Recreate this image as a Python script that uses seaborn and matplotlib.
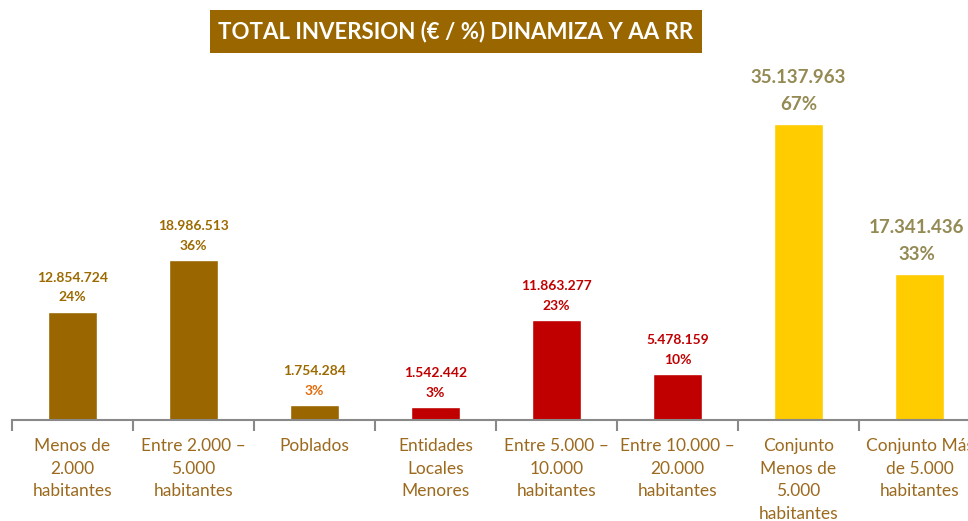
import pandas as pd
import seaborn as sns
import matplotlib.pyplot as plt
from matplotlib.patches import Rectangle

categories = [
    'Menos de\n2.000\nhabitantes',
    'Entre 2.000 –\n5.000\nhabitantes',
    'Poblados',
    'Entidades\nLocales\nMenores',
    'Entre 5.000 –\n10.000\nhabitantes',
    'Entre 10.000 –\n20.000\nhabitantes',
    'Conjunto\nMenos de\n5.000\nhabitantes',
    'Conjunto Más\nde 5.000\nhabitantes',
]
values = [12854724, 18986513, 1754284, 1542442, 11863277, 5478159, 35137963, 17341436]
value_labels = ['12.854.724', '18.986.513', '1.754.284', '1.542.442',
                '11.863.277', '5.478.159', '35.137.963', '17.341.436']
pct_labels = ['24%', '36%', '3%', '3%', '23%', '10%', '67%', '33%']
bar_colors = ['#996600', '#996600', '#996600', '#C00000', '#C00000', '#C00000', '#FFCC00', '#FFCC00']
num_colors = ['#9C6A00', '#9C6A00', '#9C6A00', '#C00000', '#C00000', '#C00000', '#948A54', '#948A54']
pct_colors = ['#9C6A00', '#9C6A00', '#E26B0A', '#C00000', '#C00000', '#C00000', '#948A54', '#948A54']

df = pd.DataFrame({'cat': categories, 'val': values})

sns.set_style('white')
plt.rcParams['font.family'] = ['Lato', 'DejaVu Sans']

fig = plt.figure(figsize=(9.68, 5.21), dpi=100)
# axes intentionally runs past the right edge, like the source image
ax = fig.add_axes([12 / 968, 101 / 521, 968 / 968, 360 / 521])

sns.barplot(data=df, x='cat', y='val', hue='cat', palette=bar_colors,
            legend=False, width=0.4, saturation=1, ax=ax)

ax.set_xlim(-0.5, 7.5)
ax.set_ylim(0, 360 / 8.425e-6)
ax.set_xlabel('')
ax.set_ylabel('')
ax.set_yticks([])
for s in ['top', 'right', 'left']:
    ax.spines[s].set_visible(False)
ax.spines['bottom'].set_color('#898989')
ax.spines['bottom'].set_linewidth(1.5)

ax.set_xticks(range(len(categories)))
ax.set_xticklabels(categories, color='#9C6A1E', fontsize=12.5, linespacing=1.5)
ax.tick_params(axis='x', length=0, pad=13)
ax.set_xticks([i - 0.5 for i in range(len(categories) + 1)], minor=True)
ax.tick_params(axis='x', which='minor', length=8, width=1.5, color='#898989', direction='out')
ax.xaxis.set_ticks_position('bottom')

for i, v in enumerate(values):
    big = i >= 6
    fs = 13.5 if big else 10
    off_pct = 8 if big else 6
    off_num = 27 if big else 20
    dx = -2 if i == 7 else 0
    ax.annotate(pct_labels[i], (i, v), xytext=(dx, off_pct), textcoords='offset points',
                ha='center', va='bottom', fontsize=fs, fontweight='bold', color=pct_colors[i])
    ax.annotate(value_labels[i], (i, v), xytext=(dx, off_num), textcoords='offset points',
                ha='center', va='bottom', fontsize=fs, fontweight='bold', color=num_colors[i])

# title banner
fig.patches.append(Rectangle((210 / 968, 1 - 53 / 521), 492 / 968, 43 / 521,
                             transform=fig.transFigure, facecolor='#996600',
                             edgecolor='none', zorder=0))
fig.text(456 / 968, 1 - 32 / 521, 'TOTAL INVERSION (€ / %) DINAMIZA Y AA RR',
         ha='center', va='center', fontsize=16, fontweight='bold', color='white')

fig.savefig('out.png', dpi=100)
